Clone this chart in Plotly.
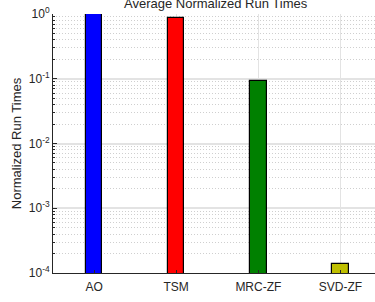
import plotly.graph_objects as go

categories = ["AO", "TSM", "MRC-ZF", "SVD-ZF"]
values = [1.0, 0.86, 0.092, 1.36e-4]
colors = ["#0000ff", "#ff0000", "#008000", "#bfbf00"]
ytick_vals = [1e-4, 1e-3, 1e-2, 1e-1, 1]
ytick_text = ["10<sup>-4</sup>", "10<sup>-3</sup>", "10<sup>-2</sup>", "10<sup>-1</sup>", "10<sup>0</sup>"]

x_pos = list(range(1, len(categories) + 1))

fig = go.Figure()
fig.add_trace(go.Bar(
    x=x_pos, y=values, width=0.2,
    marker=dict(color=colors, line=dict(color="black", width=1.2)),
))

FAM = "Liberation Sans, Arial, sans-serif"
tick_font = dict(family=FAM, size=12, color="#262626")
label_font = dict(family=FAM, size=13, color="#262626")

fig.update_layout(
    width=375, height=302,
    margin=dict(l=53, r=0, t=14, b=29, autoexpand=False),
    paper_bgcolor="white", plot_bgcolor="white",
    showlegend=False,
    font=tick_font,
    title=dict(text="Average Normalized Run Times", x=0.575, xanchor="center",
               y=1 - 3.5 / 302, yanchor="middle", yref="container",
               font=label_font),
    xaxis=dict(
        range=[0.5, 4.42], tickvals=x_pos, ticktext=categories,
        showgrid=True, gridcolor="#e3e3e3", gridwidth=1,
        showline=True, linecolor="#262626", linewidth=1,
        ticks="inside", ticklen=3, tickcolor="#262626",
        zeroline=False, tickfont=tick_font, automargin=False,
        ticklabelstandoff=3,
    ),
    yaxis=dict(
        type="log", range=[-4, 0],
        tickvals=ytick_vals, ticktext=ytick_text,
        showgrid=True, gridcolor="#e3e3e3", gridwidth=1.5,
        showline=True, linecolor="#262626", linewidth=1,
        ticks="inside", ticklen=4, tickcolor="#262626",
        zeroline=False, tickfont=tick_font, automargin=False,
        title=dict(text="Normalized Run Times", font=label_font, standoff=4),
        minor=dict(
            tickvals=[m * 10 ** e for e in range(-4, 0) for m in range(2, 10)],
            showgrid=True, gridcolor="#cfcfcf", griddash="1px,2px", gridwidth=1,
            ticks="inside", ticklen=2, tickcolor="#262626",
        ),
    ),
    bargap=0,
)

fig.write_html("out.html", config={"displayModeBar": False},
               post_script="document.body.style.margin='0';")
